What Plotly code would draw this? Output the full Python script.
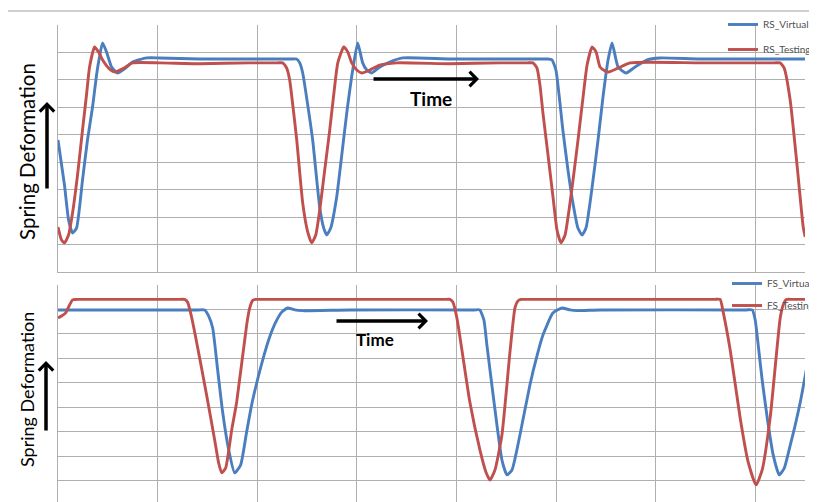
import plotly.graph_objects as go

# ---------------- data (time in ms, deformation in arbitrary units) ----------------
rs_virtual_t = [0, 6.5, 10.6, 14.6, 18.6, 24.6, 29.6, 34.7, 38.7, 41.7, 44.7, 48.7, 53.8, 59.8, 66.8, 74.9, 88.9,
                102, 142, 192, 234, 239.4, 242.7, 245.7, 250.7, 255.7, 262.7, 266.8, 269.8, 273.8, 279.8, 284.9, 289.9,
                295.9, 300.9, 305.9, 310.0, 315.0, 323.1, 333.1, 346.2, 393.4, 443.7, 486, 491.9, 495.9, 499.9, 506.9,
                512.0, 517.0, 522.0, 526.1, 530.1, 537.2, 542.2, 547.2, 552.3, 556.3, 562.3, 570.3, 579.4, 591.5,
                604.5, 644.7, 751.3]
rs_virtual_d = [48.1, 31.7, 19.0, 14.2, 16.0, 33.5, 48.1, 60.1, 71.8, 78.4, 83.5, 80.2, 74.7, 72.5, 74.0, 76.5, 78.0,
                78.0, 77.6, 77.6, 77.6, 77.6, 76.2, 72.5, 60.9, 48.1, 23.7, 16.0, 13.5, 16.0, 27.3, 42.6, 57.9,
                73.6, 83.5, 76.2, 73.6, 72.5, 74.7, 76.5, 78.0, 77.6, 77.6, 77.6, 77.6, 77.3, 73.6, 51.7,
                37.2, 25.1, 16.0, 13.5, 16.0, 33.5, 48.1, 63.8, 77.3, 83.5, 74.7, 72.5, 74.7, 77.3,
                78.0, 77.6, 77.6]

rs_testing_t = [0, 3.5, 6.5, 10.6, 14.6, 19.6, 24.6, 28.6, 31.7, 36.7, 40.7, 44.7, 50.8, 56.8, 64.8, 74.9, 102,
                142.2, 192.5, 220, 225.6, 229.6, 232.6, 235.7, 239.7, 245.7, 250.7, 254.7, 258.8, 262.8, 267.8, 272.8,
                276.8, 280.9, 286.9, 290.9, 294.9, 300.0, 305.0, 313.1, 323.1, 340.2, 393.4, 443.7, 471, 476.9, 480.9,
                483.9, 486.9, 492.0, 497.0, 501.0, 505.0, 509.1, 513.1, 517.1, 522.1, 527.2, 531.2, 536.2, 540.2,
                544.2, 549.2, 553.3, 562.3, 574.4, 644.7, 719, 725.1, 729.1, 735.1, 742.2, 748.2, 750.2]
rs_testing_d = [16.4, 11.7, 10.6, 13.5, 21.5, 35.3, 51.7, 64.5, 74.7, 82.0, 80.2, 77.3, 74.3, 72.9, 74.0, 76.2, 76.2,
                75.9, 76.2, 76.2, 76.2, 74.3, 70.0, 60.9, 48.1, 25.1, 14.6, 10.6, 13.5, 22.6, 37.2, 51.7,
                64.5, 76.2, 82.0, 80.2, 76.2, 73.6, 72.5, 73.6, 75.4, 76.2, 75.9, 76.2, 76.2, 76.2, 74.3,
                68.1, 57.9, 42.6, 27.3, 15.3, 10.6, 13.5, 22.6, 33.5, 48.1, 63.8, 75.4, 82.0, 80.2,
                74.7, 73.3, 72.9, 74.3, 76.2, 76.2, 76.2, 76.2, 74.3, 62.7, 38.3, 16.4, 12.8]

fs_virtual_t = [0, 41.7, 92.0, 141, 147.2, 151.3, 155.3, 160.3, 165.3, 171.4, 177.4, 183.4, 189.4, 194.4, 199.5, 205.5,
                212.5, 218.6, 224.6, 230.6, 237.7, 245.7, 292.9, 418, 423.5, 427.6, 430.6, 435.6, 440.7, 445.7, 450.7,
                455.8, 463.8, 473.8, 480.9, 486.9, 496.9, 506.0, 514.0, 521.1, 544.2, 691, 697.0, 700.0, 703.0, 707.0,
                712.1, 718.1, 724.1, 729.2, 735.2, 740.2, 745.3, 751.3]
fs_virtual_d = [79.8, 79.8, 79.8, 79.8, 79.8, 77.3, 72.4, 55.2, 38.0, 22.5, 13.1, 16.4, 29.9, 40.9, 49.9, 59.3,
                68.7, 74.8, 78.9, 80.6, 79.8, 79.5, 79.8, 79.8, 79.8, 75.7, 65.5, 49.1, 32.7, 18.4, 12.3,
                14.3, 28.6, 49.1, 61.0, 69.5, 78.5, 80.6, 79.8, 79.5, 79.8, 79.8, 79.8, 75.7, 65.5, 51.1,
                35.6, 20.4, 12.3, 15.1, 24.5, 32.7, 42.1, 55.2]

fs_testing_t = [0, 3.5, 7.5, 11.6, 14.6, 18.6, 25, 120, 127.1, 130.1, 133.2, 137.2, 149.2, 157.3, 161.3, 164.3, 168.3,
                174.4, 179.4, 189.4, 192.5, 195.5, 198.5, 205, 388, 393.4, 396.4, 400.5, 413.5, 423.6, 429.6, 433.7,
                438.7, 445.7, 453.8, 458.8, 461.8, 464.8, 471, 659, 664.8, 667.8, 674.9, 684.9, 692.9, 700.9, 707.0,
                715.0, 725.1, 728.1, 731.2, 738, 750.2]
fs_testing_d = [76.5, 77.3, 78.5, 81.8, 83.9, 84.1, 84.1, 84.1, 84.1, 83.0, 78.5, 70.8, 45.0, 26.6, 17.2, 13.1, 15.1,
                30.7, 42.1, 73.6, 80.6, 83.7, 84.1, 84.1, 84.1, 84.1, 83.0, 76.5, 42.1, 22.5, 13.5, 10.2,
                14.3, 28.6, 62.6, 80.6, 83.5, 84.1, 84.1, 84.1, 84.1, 79.0, 63.4, 35.6, 17.6, 8.2, 14.3,
                35.6, 76.5, 81.8, 84.1, 84.1, 84.1]

y_title = "Spring Deformation"
x_label = "Time"

BLUE = "rgb(74,126,190)"
RED = "rgb(192,80,77)"
GRID = "rgb(175,175,175)"

# the page has an 8px body margin: figure pixel = page pixel - 8
OFF = 8
W, H = 817 - OFF, 502 - OFF
ML, MR = 50, 12
PW = W - ML - MR

def px(x_page):
    return (x_page - OFF - ML) / PW

def py(y_page):
    return 1 - (y_page - OFF) / H

fig = go.Figure()

line_kw = dict(width=2.9, shape="spline", smoothing=0.5)
fig.add_trace(go.Scatter(x=rs_virtual_t, y=rs_virtual_d, name="RS_Virtual", mode="lines",
                         line=dict(color=BLUE, **line_kw),
                         xaxis="x", yaxis="y", legend="legend", legendgroup="a"))
fig.add_trace(go.Scatter(x=rs_testing_t, y=rs_testing_d, name="RS_Testing", mode="lines",
                         line=dict(color=RED, **line_kw),
                         xaxis="x", yaxis="y", legend="legend", legendgroup="b"))
fig.add_trace(go.Scatter(x=fs_virtual_t, y=fs_virtual_d, name="FS_Virtual", mode="lines",
                         line=dict(color=BLUE, **line_kw),
                         xaxis="x2", yaxis="y2", legend="legend2", legendgroup="c"))
fig.add_trace(go.Scatter(x=fs_testing_t, y=fs_testing_d, name="FS_Testing", mode="lines",
                         line=dict(color=RED, **line_kw),
                         xaxis="x2", yaxis="y2", legend="legend2", legendgroup="d"))

ax_common = dict(showticklabels=False, ticks="", showgrid=True, gridcolor=GRID, gridwidth=1,
                 zeroline=False, showline=True, linecolor=GRID, linewidth=1, fixedrange=True)

fig.update_layout(
    width=W, height=H,
    margin=dict(l=ML, r=MR, t=0, b=0, autoexpand=False),
    paper_bgcolor="white", plot_bgcolor="white",
    font=dict(family="Lato, Open Sans, sans-serif", color="#404040"),
    xaxis=dict(domain=[0, 1], range=[0, 750], dtick=100, tick0=0, anchor="y", **ax_common),
    yaxis=dict(domain=[py(272), py(25)], range=[0, 90], dtick=10, tick0=0, anchor="x", **ax_common),
    xaxis2=dict(domain=[0, 1], range=[0, 750], dtick=100, tick0=0, anchor="y2", **ax_common),
    yaxis2=dict(domain=[0, py(285)], range=[1.2, 90], dtick=10, tick0=0, anchor="x2", **ax_common),
    legend=dict(x=px(723), y=py(10), xanchor="left", yanchor="top", bgcolor="rgba(0,0,0,0)",
                font=dict(size=10, color="#505050"), tracegroupgap=6, traceorder="grouped"),
    legend2=dict(x=px(727), y=py(269), xanchor="left", yanchor="top", bgcolor="rgba(0,0,0,0)",
                 font=dict(size=10, color="#505050"), tracegroupgap=3, traceorder="grouped"),
    showlegend=True,
)

# top separator line
fig.add_shape(type="line", xref="paper", yref="paper", x0=px(5), x1=px(830), y0=py(11), y1=py(11),
              line=dict(color="rgb(160,160,160)", width=1))

annotations = [
    dict(text=y_title, x=px(27), y=py(152), textangle=-90, font=dict(size=20.5, color="black")),
    dict(text=y_title, x=px(27), y=py(390), textangle=-90, font=dict(size=18, color="black")),
    dict(text="<b>%s</b>" % x_label, x=px(431), y=py(98), font=dict(size=19, color="black")),
    dict(text="<b>%s</b>" % x_label, x=px(375), y=py(339), font=dict(size=17, color="black")),
]
for a in annotations:
    a.update(xref="paper", yref="paper", showarrow=False, xanchor="center", yanchor="middle")
    fig.add_annotation(**a)

arrows = [
    # head x, head y (page px), tail offset ax, ay (pixels)
    (47, 102, 0, 88),
    (46, 361, 0, 71),
    (479, 79, -107, 0),
    (428, 321, -93, 0),
]
for hx, hy, dax, day in arrows:
    fig.add_annotation(x=px(hx), y=py(hy), xref="paper", yref="paper", ax=dax, ay=day,
                       showarrow=True, arrowhead=4, arrowsize=0.8, arrowwidth=3.5,
                       arrowcolor="black", text="", standoff=0)

fig.write_html("out.html")
